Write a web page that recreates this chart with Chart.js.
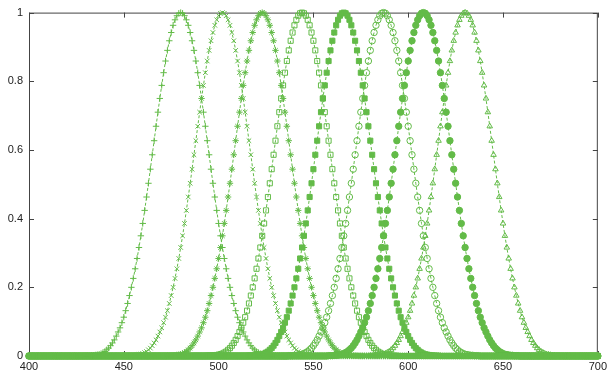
<!DOCTYPE html>
<html>
<head>
<meta charset="utf-8">
<script src="https://cdn.jsdelivr.net/npm/chart.js@4.4.1/dist/chart.umd.min.js"></script>
<style>
  body { margin: 0; background: #fff; }
  canvas { display: block; }
</style>
</head>
<body>
<canvas id="spectraChart" width="611" height="376"></canvas>
<script>
// Wavelength range (nm), one sample per nm
const wlStart = 400;
const wlEnd = 700;

// Peak wavelength of each band
const peakCenters = [480, 502, 523, 544, 566, 587, 608, 630];

// Normalised band response against distance from the peak (0..50 nm), zero beyond
const bandShape = [
    1.000, 0.998, 0.991, 0.979, 0.963, 0.942, 0.918, 0.890, 0.859, 0.825,
    0.788, 0.750, 0.710, 0.669, 0.627, 0.586, 0.544, 0.503, 0.463, 0.424,
    0.386, 0.350, 0.316, 0.284, 0.254, 0.226, 0.200, 0.176, 0.153, 0.132,
    0.113, 0.097, 0.082, 0.070, 0.058, 0.047, 0.038, 0.030, 0.023, 0.018,
    0.013, 0.010, 0.007, 0.005, 0.004, 0.003, 0.002, 0.002, 0.001, 0.001,
    0.001
];

// Axis tick values
const xTicks = [400, 450, 500, 550, 600, 650, 700];
const yTicks = [0, 0.2, 0.4, 0.6, 0.8, 1];

// Marker look for each band, in the same order as peakCenters
const markerStyles = ['cross', 'crossRot', 'star', 'rect', 'rect', 'circle', 'circle', 'triangle'];
const markerFilled = [false, false, false, false, true, false, true, false];

const green = '#63bb48';

function bandPoints(center) {
    const pts = [];
    for (let x = wlStart; x <= wlEnd; x++) {
        const d = Math.abs(x - center);
        pts.push({ x: x, y: d < bandShape.length ? bandShape[d] : 0 });
    }
    return pts;
}

const datasets = peakCenters.map((c, i) => ({
    label: 'band ' + (i + 1),
    data: bandPoints(c),
    borderColor: green,
    borderWidth: 1,
    borderDash: [3, 2],
    pointStyle: markerStyles[i],
    pointRadius: markerStyles[i] === 'rect' ? 3.6 : 3.2,
    pointBorderWidth: 1,
    pointBorderColor: green,
    pointBackgroundColor: markerFilled[i] ? green : 'rgba(0,0,0,0)',
    fill: false,
    tension: 0,
    clip: false
}));

// Gnuplot-style frame with inward ticks on all four sides
const framePlugin = {
    id: 'frame',
    beforeDatasetsDraw(chart) {
        const { ctx, chartArea: a, scales } = chart;
        ctx.save();
        ctx.strokeStyle = '#444';
        ctx.lineWidth = 1;
        ctx.strokeRect(a.left + 0.5, a.top + 0.5, a.right - a.left - 1, a.bottom - a.top - 1);
        ctx.beginPath();
        xTicks.forEach(v => {
            const px = Math.round(scales.x.getPixelForValue(v)) + 0.5;
            ctx.moveTo(px, a.bottom);
            ctx.lineTo(px, a.bottom - 5);
            ctx.moveTo(px, a.top);
            ctx.lineTo(px, a.top + 5);
        });
        yTicks.forEach(v => {
            const py = Math.round(scales.y.getPixelForValue(v)) + 0.5;
            ctx.moveTo(a.left, py);
            ctx.lineTo(a.left + 5, py);
            ctx.moveTo(a.right, py);
            ctx.lineTo(a.right - 5, py);
        });
        ctx.stroke();
        ctx.restore();
    }
};

const tickFont = { family: "'Liberation Sans', Arial, sans-serif", size: 11 };

new Chart(document.getElementById('spectraChart'), {
    type: 'line',
    data: { datasets: datasets },
    options: {
        responsive: false,
        animation: false,
        layout: { padding: { top: 5, right: 6, left: 0, bottom: 0 } },
        plugins: {
            legend: { display: false },
            tooltip: { enabled: false }
        },
        scales: {
            x: {
                type: 'linear',
                min: wlStart,
                max: wlEnd,
                afterBuildTicks: s => { s.ticks = xTicks.map(v => ({ value: v })); },
                ticks: { color: '#222', font: tickFont, padding: 4, maxRotation: 0, autoSkip: false },
                grid: { display: false, drawTicks: false },
                border: { display: false },
                afterFit: s => { s.height = 20; }
            },
            y: {
                min: 0,
                max: 1,
                afterBuildTicks: s => { s.ticks = yTicks.map(v => ({ value: v })); },
                ticks: { color: '#222', font: tickFont, padding: 6, callback: v => String(v) },
                grid: { display: false, drawTicks: false },
                border: { display: false },
                afterFit: s => { s.width = 29; }
            }
        }
    },
    plugins: [framePlugin]
});
</script>
</body>
</html>
